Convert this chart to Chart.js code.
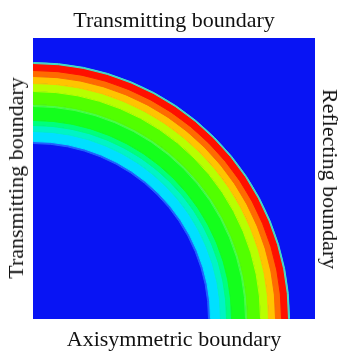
<!DOCTYPE html>
<html>
<head>
<meta charset="utf-8">
<script src="https://cdn.jsdelivr.net/npm/chart.js@4/dist/chart.umd.min.js"></script>
<style>
  html, body { margin: 0; padding: 0; background: #fff; }
  #wrap { position: relative; width: 339px; height: 352px; overflow: hidden; }
  #chart { position: absolute; left: 0; top: 0; }
  .lbl {
    position: absolute;
    font-family: "Liberation Serif", "DejaVu Serif", serif;
    font-size: 22px;
    line-height: 22px;
    color: #111;
    white-space: nowrap;
  }
</style>
</head>
<body>
<div id="wrap">
  <canvas id="chart" width="339" height="352"></canvas>
  <div class="lbl" id="lblTop" style="left:174px; top:9px; transform:translateX(-50%);">Transmitting boundary</div>
  <div class="lbl" id="lblBottom" style="left:174px; top:328px; transform:translateX(-50%);">Axisymmetric boundary</div>
  <div class="lbl" id="lblLeft" style="left:15.5px; top:178px; transform:translate(-50%,-50%) rotate(-90deg);">Transmitting boundary</div>
  <div class="lbl" id="lblRight" style="left:329.5px; top:179px; transform:translate(-50%,-50%) rotate(90deg);">Reflecting boundary</div>
</div>
<script>
// contour bands of the quarter ring, outermost first (outer radius in px from the corner)
const bandOuter = [256, 255, 248, 242, 235, 227, 214, 212, 198, 193, 187, 177];
const bandColors = ['#40e0c8', '#ff1000', '#ff6a00', '#ffc400', '#b8ff00', '#52ff00',
                    '#48ff48', '#14ff1c', '#00ff7c', '#00f4c4', '#00e0ff', '#1e64ff'];
const innerRadius = 175;
const fieldColor = '#0814f4';

// plot box (blue field) and ring chart area
const box = { left: 33, top: 38, right: 315, bottom: 319 };
const seam = 1; // border in the band's own colour hides antialias seams

const datasets = bandOuter.map((r, i) => {
  const next = i + 1 < bandOuter.length ? bandOuter[i + 1] : innerRadius;
  return {
    data: [1],
    backgroundColor: bandColors[i],
    borderColor: bandColors[i],
    borderWidth: seam,
    weight: r - next
  };
});

const fieldPlugin = {
  id: 'field',
  beforeDraw(chart) {
    const ctx = chart.ctx;
    ctx.save();
    ctx.fillStyle = fieldColor;
    ctx.fillRect(box.left, box.top, box.right - box.left, box.bottom - box.top);
    ctx.restore();
  }
};

const outer = bandOuter[0];
const area = outer + seam;
new Chart(document.getElementById('chart'), {
  type: 'doughnut',
  data: { labels: ['u'], datasets: datasets },
  options: {
    responsive: false,
    animation: false,
    rotation: 0,
    circumference: 90,
    cutout: (innerRadius / outer * 100) + '%',
    layout: {
      padding: {
        left: box.left,
        top: box.bottom - area,
        right: 339 - box.left - area,
        bottom: 352 - box.bottom
      }
    },
    plugins: {
      legend: { display: false },
      tooltip: { enabled: false }
    }
  },
  plugins: [fieldPlugin]
});
</script>
</body>
</html>
